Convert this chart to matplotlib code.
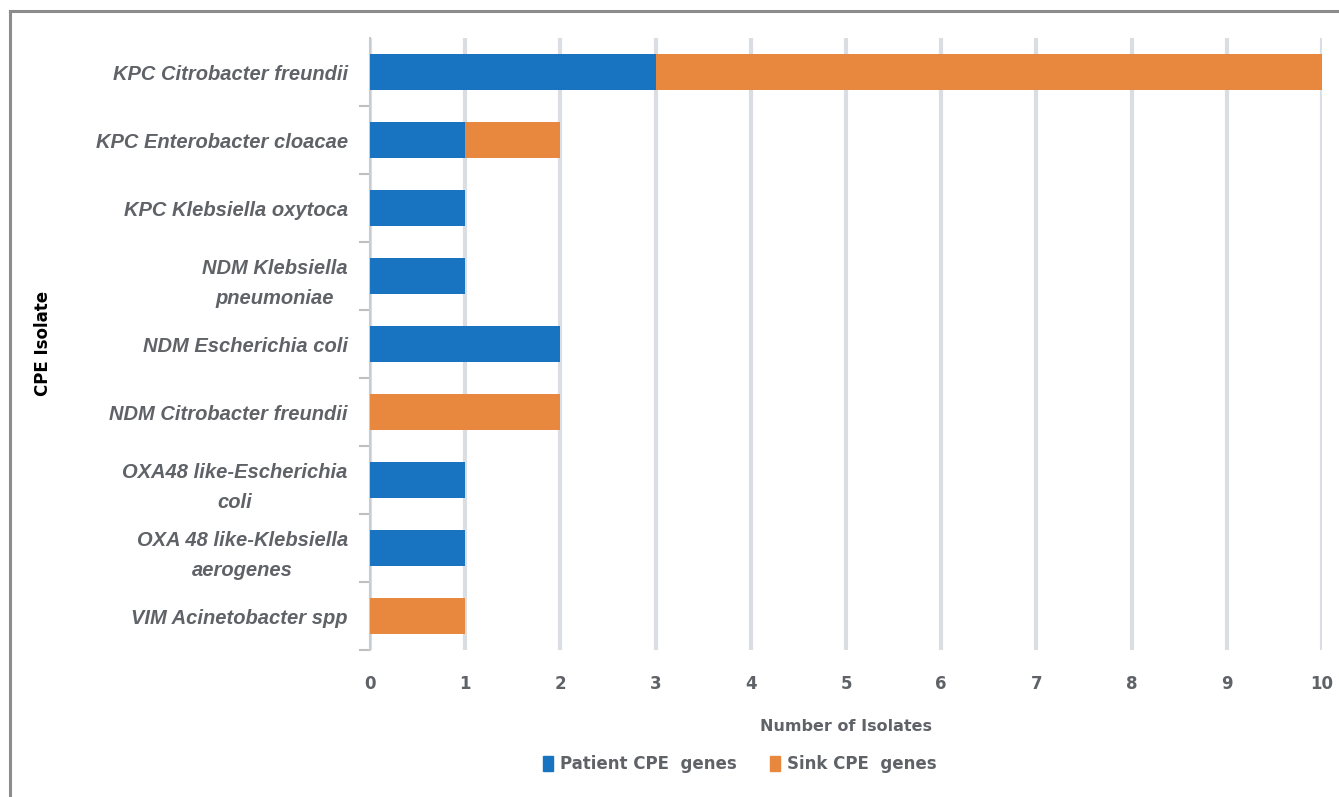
import matplotlib
matplotlib.use("Agg")
import matplotlib.pyplot as plt
from matplotlib.lines import Line2D
import numpy as np

categories = [
    "KPC Citrobacter freundii",
    "KPC Enterobacter cloacae",
    "KPC Klebsiella oxytoca",
    "NDM Klebsiella\npneumoniae",
    "NDM Escherichia coli",
    "NDM Citrobacter freundii",
    "OXA48 like-Escherichia\ncoli",
    "OXA 48 like-Klebsiella\naerogenes",
    "VIM Acinetobacter spp",
]
patient = [3, 1, 1, 1, 2, 0, 1, 1, 0]
sink = [7, 1, 0, 0, 0, 2, 0, 0, 1]
xticks = list(range(0, 11))

blue = "#1874C0"
orange = "#E8883F"
txt = "#5f6368"

fig = plt.figure(figsize=(13.39, 7.97), dpi=100)
W, H = 1339, 797
ax = fig.add_axes([370 / W, 1 - 650 / H, (1322 - 370) / W, (650 - 38) / H])

n = len(categories)
y = np.arange(n)
ax.barh(y, patient, height=0.53, color=blue, zorder=3, label="Patient CPE  genes")
ax.barh(y, sink, left=patient, height=0.53, color=orange, zorder=3, label="Sink CPE  genes")

ax.set_ylim(n - 0.5, -0.5)
ax.set_xlim(0, 10)
ax.set_xticks(xticks)
ax.set_xticklabels([str(v) for v in xticks], fontsize=12, color=txt, fontweight="bold")
ax.set_yticks(y)
ax.set_yticklabels(categories, fontsize=14.5, color=txt, style="italic", fontweight="bold",
                   family="Liberation Sans", linespacing=1.75, multialignment="center")
ax.tick_params(axis="y", length=0, pad=16)
ax.tick_params(axis="x", length=0, pad=18)
ax.set_yticks(np.arange(0.5, n, 1), minor=True)
ax.tick_params(axis="y", which="minor", length=8, color="#bfbfbf", width=1.5)

for s in ["top", "right", "bottom"]:
    ax.spines[s].set_visible(False)
ax.spines["left"].set_color("#c8ccd2")
ax.spines["left"].set_linewidth(1.5)
ax.grid(axis="x", color="#dadde2", linewidth=3, zorder=0)
ax.set_axisbelow(True)

ax.set_xlabel("Number of Isolates", fontsize=11.5, color=txt, fontweight="bold", labelpad=19)
fig.text(43 / W, 1 - 343 / H, "CPE Isolate", rotation=90, fontsize=12, fontweight="bold",
         color="black", ha="center", va="center")

handles = [plt.Rectangle((0, 0), 1, 1, color=blue), plt.Rectangle((0, 0), 1, 1, color=orange)]
fig.legend(handles, ["Patient CPE  genes", "Sink CPE  genes"], loc="center",
           bbox_to_anchor=(740 / W, 1 - 764 / H), ncol=2, frameon=False,
           prop={"size": 12, "weight": "bold"}, labelcolor=txt,
           handlelength=0.6, handleheight=1.0, columnspacing=2.0, handletextpad=0.4)

# outer frame (top and left)
fig.add_artist(Line2D([9.5 / W, 9.5 / W], [0, 1 - 10.5 / H], color="#8c8c8c", lw=2.2,
                      transform=fig.transFigure))
fig.add_artist(Line2D([9.5 / W, 1], [1 - 10.5 / H, 1 - 10.5 / H], color="#8c8c8c", lw=2.2,
                      transform=fig.transFigure))

fig.savefig("out.png", dpi=100, facecolor="white")
